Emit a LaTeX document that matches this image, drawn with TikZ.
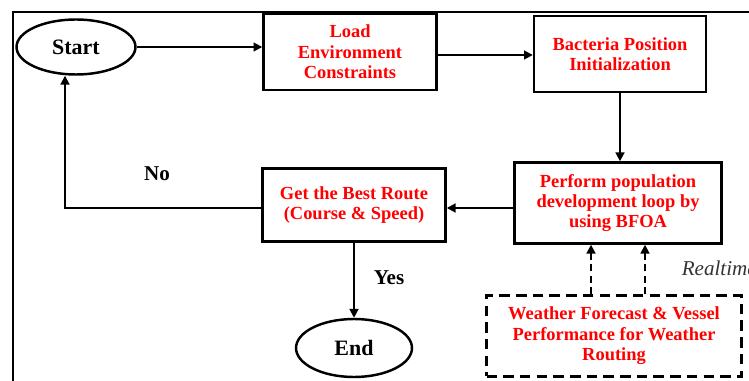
\documentclass[tikz,border=0pt]{standalone}
\usepackage{fontspec}
\setmainfont{Liberation Serif}
\usetikzlibrary{arrows.meta, positioning, shapes.geometric}
\usepackage{xcolor}

\begin{document}
\begin{tikzpicture}[x=0.02cm,y=-0.02cm,->,>={Triangle[length=5pt,width=5pt]},line width=1.1pt,font=\rmfamily]
    \tikzstyle{terminal}=[ellipse, draw=black, line width=1.4pt, font=\rmfamily\bfseries\fontsize{12.5}{14}\selectfont, inner sep=0pt]
    \tikzstyle{process}=[rectangle, draw=black, line width=1.4pt, align=center, text=red, font=\rmfamily\bfseries\fontsize{10.5}{11.6}\selectfont, inner sep=0pt]
    \tikzstyle{data}=[process, dashed, dash pattern=on 6pt off 3.5pt]
    \tikzstyle{annot}=[font=\rmfamily\bfseries\fontsize{12}{14}\selectfont]

    \useasboundingbox (0,0) rectangle (749,381);
    \draw[-, line width=1.4pt] (13,381) -- (13,12) -- (749,12);

    \node[terminal, minimum width=2.38cm, minimum height=1.1cm] (start) at (76,47) {Start};
    \node[process, minimum width=3.46cm, minimum height=1.52cm] (load) at (350,52) {Load\\Environment\\Constraints};
    \node[process, minimum width=3.44cm, minimum height=1.52cm] (bact) at (620,54) {Bacteria Position\\Initialization};
    \node[process, minimum width=4.14cm, minimum height=1.62cm] (perf) at (618,203) {Perform population\\development loop by\\using BFOA};
    \node[process, minimum width=3.66cm, minimum height=1.46cm] (best) at (354,205) {Get the Best Route\\(Course \& Speed)};
    \node[terminal, minimum width=2.32cm, minimum height=1.16cm] (end) at (354,348) {End};
    \node[data, minimum width=5.1cm, minimum height=1.62cm] (wthr) at (614,336) {Weather Forecast \& Vessel\\Performance for Weather\\Routing};

    \path (start.east) edge (load.west |- start.east);
    \path ([yshift=-0.06cm]load.east) edge ([yshift=-0.06cm]bact.west |- load.east);
    \path (bact.south) edge (bact.south |- perf.north);
    \path ([yshift=-0.1cm]perf.west) edge ([yshift=-0.1cm]best.east |- perf.west);
    \draw ([yshift=-0.06cm]best.west) -| ([xshift=-0.22cm]start.south);
    \path (best.south) edge (end.north);
    \path[dashed, dash pattern=on 4pt off 2.5pt] ([xshift=-0.46cm]wthr.north) edge ([xshift=-0.46cm]wthr.north |- perf.south);
    \path[dashed, dash pattern=on 4pt off 2.5pt] ([xshift=0.62cm]wthr.north) edge ([xshift=0.62cm]wthr.north |- perf.south);

    \node[annot] (no) at (157,174) {No};
    \node[annot] (yes) at (389,278) {Yes};
    \node[anchor=west, font=\rmfamily\itshape\fontsize{12}{14}\selectfont, text=black!80] (rt) at (675,268) {Realtime};
\end{tikzpicture}
\end{document}
